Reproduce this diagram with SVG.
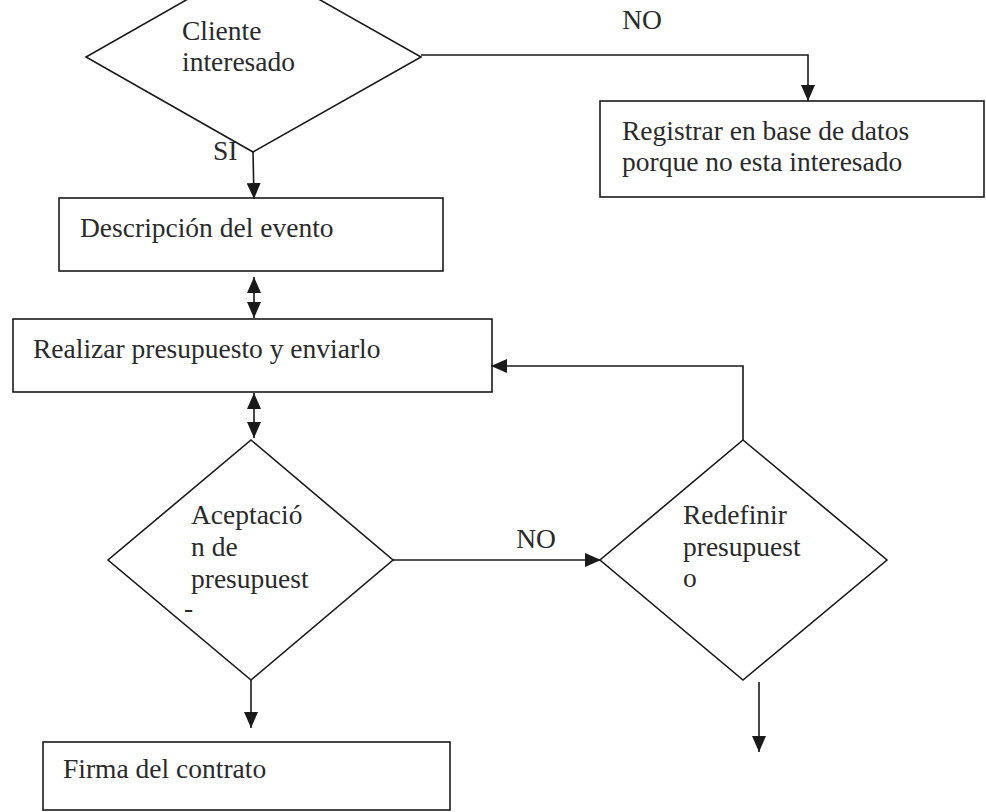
<svg xmlns="http://www.w3.org/2000/svg" width="986" height="812" viewBox="0 0 986 812">
<style>
.shape{fill:none;stroke:#1a1a1a;stroke-width:1.6}
.conn{fill:none;stroke:#1a1a1a;stroke-width:1.6}
text{font-family:"Liberation Serif","Times New Roman",serif;font-size:27.5px;fill:#2a2a2a}
</style>
<defs>
<marker id="ah" markerUnits="userSpaceOnUse" markerWidth="16" markerHeight="14" viewBox="0 0 16 14" refX="16" refY="7" orient="auto-start-reverse">
<path d="M0,0 L16,7 L0,14 Z" fill="#1a1a1a"/>
</marker>
</defs>
<rect width="986" height="812" fill="#ffffff"/>
<g id="connectors">
<path class="conn" d="M421,55 H808 V101" marker-end="url(#ah)"/>
<path class="conn" d="M253,152 L254,199" marker-end="url(#ah)"/>
<path class="conn" d="M254,277 V318" marker-start="url(#ah)" marker-end="url(#ah)"/>
<path class="conn" d="M254,393 V438" marker-start="url(#ah)" marker-end="url(#ah)"/>
<path class="conn" d="M393,560 H601" marker-end="url(#ah)"/>
<path class="conn" d="M743,440 V366 H491" marker-end="url(#ah)"/>
<path class="conn" d="M251,680 V728" marker-end="url(#ah)"/>
<path class="conn" d="M759,682 V752" marker-end="url(#ah)"/>
<text x="642" y="29" text-anchor="middle">NO</text>
<text x="213" y="160">SI</text>
<text x="536" y="548" text-anchor="middle">NO</text>
</g>
<g id="cliente-interesado">
<polygon class="shape" points="253,-38 421,57 253,152 86,57"/>
<text x="182" y="40">Cliente</text>
<text x="182" y="71">interesado</text>
</g>
<g id="registrar">
<rect class="shape" x="600" y="101" width="384" height="96"/>
<text x="622" y="140">Registrar en base de datos</text>
<text x="622" y="171">porque no esta interesado</text>
</g>
<g id="descripcion">
<rect class="shape" x="59" y="198" width="384" height="73"/>
<text x="80" y="237">Descripción del evento</text>
</g>
<g id="realizar">
<rect class="shape" x="13" y="319" width="479" height="73"/>
<text x="33" y="358">Realizar presupuesto y enviarlo</text>
</g>
<g id="aceptacion">
<polygon class="shape" points="251,440 393,560 251,680 108,560"/>
<text x="191" y="524">Aceptació</text>
<text x="191" y="556">n de</text>
<text x="191" y="588">presupuest</text>
<text x="184" y="617">-</text>
</g>
<g id="redefinir">
<polygon class="shape" points="743,440 887,560 743,680 600,560"/>
<text x="683" y="524">Redefinir</text>
<text x="683" y="556">presupuest</text>
<text x="683" y="587">o</text>
</g>
<g id="firma">
<rect class="shape" x="43" y="742" width="407" height="68"/>
<text x="63" y="778">Firma del contrato</text>
</g>
</svg>
